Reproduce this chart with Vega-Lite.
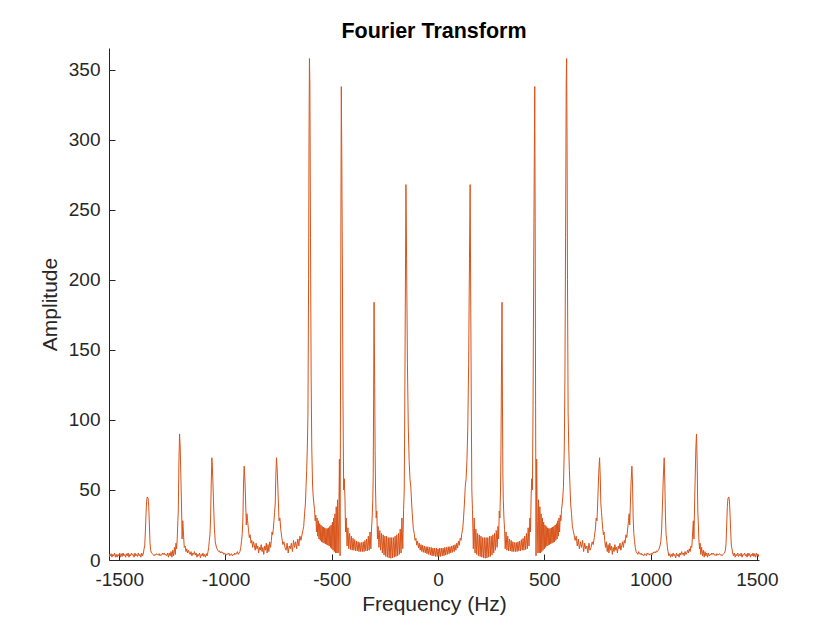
{
  "$schema": "https://vega.github.io/schema/vega-lite/v6.json",
  "autosize": {"type": "none"},
  "width": 650,
  "height": 512,
  "padding": {"left": 109, "top": 48, "right": 81, "bottom": 70},
  "background": "white",
  "title": {"text": "Fourier Transform", "fontSize": 21.5, "fontWeight": "bold", "font": "Liberation Sans", "color": "black", "offset": 6, "anchor": "middle", "frame": "group"},
  "data": {
    "values": [
      {"freq":0,"amp":8},{"freq":4,"amp":2.5},{"freq":8,"amp":8.5},{"freq":12,"amp":2.5},{"freq":16,"amp":8.5},{"freq":20,"amp":3},{"freq":24,"amp":8.5},{"freq":28,"amp":3},{"freq":32,"amp":9},{"freq":36,"amp":3.5},{"freq":40,"amp":9},{"freq":44,"amp":4},{"freq":48,"amp":9.5},{"freq":52,"amp":4.5},{"freq":56,"amp":9.5},{"freq":60,"amp":5},{"freq":64,"amp":10},{"freq":68,"amp":5.5},{"freq":72,"amp":10.5},{"freq":76,"amp":6},{"freq":80,"amp":11},{"freq":84,"amp":7},{"freq":88,"amp":12},{"freq":92,"amp":8.5},{"freq":96,"amp":13.5},{"freq":100,"amp":10.5},{"freq":104,"amp":15.5},{"freq":108,"amp":14},{"freq":112,"amp":19},{"freq":116,"amp":22},{"freq":120,"amp":30},{"freq":124,"amp":40},{"freq":128,"amp":52},{"freq":132,"amp":58},{"freq":136,"amp":71},{"freq":140,"amp":95},{"freq":144,"amp":140},{"freq":148,"amp":215},{"freq":151,"amp":268},{"freq":154,"amp":180},{"freq":157,"amp":95},{"freq":159,"amp":50},{"freq":162,"amp":36},
      {"freq":166,"amp":8},{"freq":170,"amp":30},{"freq":174,"amp":5},{"freq":178,"amp":22},{"freq":182,"amp":4},{"freq":186,"amp":19},{"freq":190,"amp":3},{"freq":194,"amp":18},{"freq":198,"amp":2.5},{"freq":202,"amp":17},{"freq":206,"amp":2},{"freq":210,"amp":16},{"freq":214,"amp":1.5},{"freq":218,"amp":16},{"freq":222,"amp":1.2},{"freq":226,"amp":16},{"freq":230,"amp":1.5},{"freq":234,"amp":16},{"freq":238,"amp":2},{"freq":242,"amp":17},{"freq":246,"amp":2.5},{"freq":250,"amp":17},{"freq":254,"amp":3.5},{"freq":258,"amp":18},{"freq":262,"amp":5},{"freq":266,"amp":19},{"freq":270,"amp":7},{"freq":274,"amp":21},{"freq":278,"amp":9},{"freq":282,"amp":24},{"freq":285,"amp":15},{"freq":288,"amp":35},{"freq":291,"amp":30},{"freq":294,"amp":50},{"freq":296,"amp":78},{"freq":298,"amp":125},{"freq":301,"amp":184},{"freq":303,"amp":115},{"freq":305,"amp":60},{"freq":307,"amp":43},{"freq":310,"amp":30},
      {"freq":313,"amp":22},{"freq":316,"amp":8},{"freq":320,"amp":20},{"freq":324,"amp":7},{"freq":328,"amp":17},{"freq":332,"amp":6.5},{"freq":336,"amp":15},{"freq":340,"amp":6.5},{"freq":344,"amp":14},{"freq":348,"amp":6},{"freq":352,"amp":13},{"freq":356,"amp":6},{"freq":360,"amp":12.5},{"freq":364,"amp":6},{"freq":368,"amp":12.5},{"freq":372,"amp":6},{"freq":376,"amp":13},{"freq":380,"amp":6.5},{"freq":384,"amp":13.5},{"freq":388,"amp":6.5},{"freq":392,"amp":14.5},{"freq":396,"amp":7},{"freq":400,"amp":15.5},{"freq":404,"amp":7},{"freq":408,"amp":17},{"freq":412,"amp":7.5},{"freq":416,"amp":19},{"freq":420,"amp":8},{"freq":424,"amp":23},{"freq":428,"amp":10},{"freq":432,"amp":30},{"freq":435,"amp":20},{"freq":438,"amp":45},{"freq":441,"amp":58},{"freq":444,"amp":50},{"freq":447,"amp":110},{"freq":450,"amp":210},{"freq":453,"amp":290},{"freq":455,"amp":338},{"freq":457,"amp":240},{"freq":459,"amp":110},{"freq":461,"amp":3},{"freq":464,"amp":72},{"freq":467,"amp":28},{"freq":470,"amp":5},
      {"freq":473,"amp":43},{"freq":476,"amp":5},{"freq":479,"amp":38},{"freq":482,"amp":5},{"freq":485,"amp":33},{"freq":488,"amp":6},{"freq":491,"amp":30},{"freq":494,"amp":7},{"freq":497,"amp":27},{"freq":500,"amp":8},{"freq":503,"amp":25},{"freq":506,"amp":9},{"freq":509,"amp":24},{"freq":512,"amp":10},{"freq":515,"amp":23},{"freq":518,"amp":10.5},{"freq":521,"amp":22.5},{"freq":524,"amp":11},{"freq":527,"amp":22.5},{"freq":530,"amp":11.5},{"freq":533,"amp":23},{"freq":536,"amp":12},{"freq":539,"amp":23.5},{"freq":542,"amp":12.5},{"freq":545,"amp":24},{"freq":548,"amp":13},{"freq":551,"amp":25},{"freq":554,"amp":14},{"freq":557,"amp":26},{"freq":560,"amp":15},{"freq":563,"amp":28},{"freq":566,"amp":17},{"freq":569,"amp":30},{"freq":572,"amp":20},{"freq":575,"amp":32},{"freq":578,"amp":28},{"freq":581,"amp":36},{"freq":584,"amp":40},{"freq":587,"amp":45},{"freq":590,"amp":52},{"freq":594,"amp":80},{"freq":597,"amp":130},{"freq":600,"amp":230},{"freq":603,"amp":340},{"freq":605,"amp":358},{"freq":607,"amp":300},{"freq":609,"amp":200},{"freq":612,"amp":105},{"freq":615,"amp":80},{"freq":618,"amp":64},{"freq":621,"amp":52},{"freq":624,"amp":40},{"freq":628,"amp":33},{"freq":632,"amp":24},{"freq":636,"amp":21},
      {"freq":640,"amp":18},{"freq":645,"amp":14},{"freq":650,"amp":17},{"freq":655,"amp":10},{"freq":660,"amp":15},{"freq":665,"amp":8},{"freq":670,"amp":13},{"freq":675,"amp":9},{"freq":680,"amp":14},{"freq":685,"amp":6},{"freq":690,"amp":12},{"freq":695,"amp":8},{"freq":700,"amp":10},{"freq":705,"amp":5},{"freq":710,"amp":12},{"freq":715,"amp":7},{"freq":720,"amp":9},{"freq":725,"amp":13},{"freq":730,"amp":11},{"freq":735,"amp":16},{"freq":740,"amp":22},{"freq":744,"amp":30},{"freq":748,"amp":28},{"freq":752,"amp":45},{"freq":756,"amp":62},{"freq":760,"amp":73},{"freq":763,"amp":60},{"freq":766,"amp":40},{"freq":769,"amp":34},{"freq":772,"amp":28},{"freq":775,"amp":22},{"freq":778,"amp":18},{"freq":781,"amp":20},{"freq":784,"amp":14},{"freq":788,"amp":9},{"freq":792,"amp":13},{"freq":796,"amp":6},{"freq":800,"amp":11},{"freq":804,"amp":5},{"freq":808,"amp":12},{"freq":812,"amp":7},{"freq":816,"amp":10},{"freq":820,"amp":4},{"freq":824,"amp":9},{"freq":828,"amp":6},{"freq":832,"amp":11},{"freq":836,"amp":7},{"freq":840,"amp":9},{"freq":844,"amp":5},{"freq":848,"amp":10},{"freq":852,"amp":8},{"freq":856,"amp":12},{"freq":860,"amp":7},{"freq":864,"amp":10},{"freq":868,"amp":13},{"freq":872,"amp":9},{"freq":876,"amp":14},{"freq":880,"amp":12},{"freq":884,"amp":18},{"freq":888,"amp":16},{"freq":892,"amp":22},{"freq":896,"amp":28},{"freq":899,"amp":33},{"freq":902,"amp":25},{"freq":905,"amp":40},{"freq":908,"amp":55},{"freq":912,"amp":67},{"freq":915,"amp":55},{"freq":918,"amp":30},{"freq":921,"amp":19},{"freq":924,"amp":14},{"freq":928,"amp":9},{"freq":932,"amp":6},{"freq":936,"amp":5},
      {"freq":940,"amp":4},{"freq":944,"amp":6},{"freq":948,"amp":4.5},{"freq":952,"amp":4},{"freq":956,"amp":5},{"freq":960,"amp":3.5},{"freq":964,"amp":4},{"freq":968,"amp":3},{"freq":972,"amp":4.5},{"freq":976,"amp":4},{"freq":980,"amp":3},{"freq":984,"amp":5},{"freq":988,"amp":4},{"freq":992,"amp":4.5},{"freq":996,"amp":3.5},{"freq":1000,"amp":4},{"freq":1004,"amp":5},{"freq":1008,"amp":4},{"freq":1012,"amp":5.5},{"freq":1016,"amp":5},{"freq":1020,"amp":6},{"freq":1024,"amp":5},{"freq":1028,"amp":6.5},{"freq":1032,"amp":6},{"freq":1036,"amp":7},{"freq":1040,"amp":8},{"freq":1044,"amp":10},{"freq":1048,"amp":13},{"freq":1052,"amp":22},{"freq":1056,"amp":40},{"freq":1060,"amp":60},{"freq":1064,"amp":73},{"freq":1067,"amp":55},{"freq":1070,"amp":30},{"freq":1073,"amp":18},{"freq":1076,"amp":14},{"freq":1079,"amp":9},{"freq":1082,"amp":6},{"freq":1086,"amp":3},{"freq":1090,"amp":4.5},{"freq":1094,"amp":2},{"freq":1098,"amp":4},{"freq":1102,"amp":2.5},{"freq":1106,"amp":5},{"freq":1110,"amp":3},{"freq":1114,"amp":4},{"freq":1118,"amp":1.5},{"freq":1122,"amp":5},{"freq":1126,"amp":3},{"freq":1130,"amp":4},{"freq":1134,"amp":2},{"freq":1138,"amp":5},{"freq":1142,"amp":3.5},{"freq":1146,"amp":6},{"freq":1150,"amp":4},{"freq":1154,"amp":5},{"freq":1158,"amp":3},{"freq":1162,"amp":6},{"freq":1166,"amp":4},{"freq":1170,"amp":5},{"freq":1174,"amp":7},{"freq":1178,"amp":5},{"freq":1182,"amp":8},{"freq":1186,"amp":6},{"freq":1190,"amp":10},{"freq":1194,"amp":9},{"freq":1198,"amp":20},{"freq":1201,"amp":28},{"freq":1204,"amp":15},{"freq":1207,"amp":40},{"freq":1210,"amp":60},{"freq":1213,"amp":80},{"freq":1216,"amp":90},{"freq":1219,"amp":70},{"freq":1222,"amp":35},{"freq":1224,"amp":28},{"freq":1227,"amp":15},{"freq":1230,"amp":8},{"freq":1233,"amp":12},{"freq":1236,"amp":4},{"freq":1240,"amp":9},{"freq":1244,"amp":3},{"freq":1248,"amp":7},{"freq":1252,"amp":2},{"freq":1256,"amp":6},{"freq":1260,"amp":3},{"freq":1264,"amp":5},{"freq":1268,"amp":2},{"freq":1272,"amp":5},{"freq":1276,"amp":3},{"freq":1280,"amp":4},{"freq":1284,"amp":3.5},{"freq":1288,"amp":5},{"freq":1292,"amp":4},{"freq":1296,"amp":5},{"freq":1300,"amp":3.5},{"freq":1304,"amp":4},{"freq":1308,"amp":3},{"freq":1312,"amp":4.5},{"freq":1316,"amp":3.5},{"freq":1320,"amp":4},{"freq":1324,"amp":4.5},{"freq":1328,"amp":3.5},{"freq":1332,"amp":4},{"freq":1336,"amp":3},{"freq":1340,"amp":4},{"freq":1344,"amp":4.5},{"freq":1348,"amp":5},{"freq":1352,"amp":7},{"freq":1355,"amp":12},{"freq":1358,"amp":25},{"freq":1361,"amp":38},{"freq":1364,"amp":44},{"freq":1368,"amp":45},{"freq":1371,"amp":42},{"freq":1374,"amp":32},{"freq":1377,"amp":20},{"freq":1380,"amp":10},{"freq":1383,"amp":8},{"freq":1386,"amp":5},{"freq":1390,"amp":3},{"freq":1394,"amp":5},{"freq":1398,"amp":2},{"freq":1402,"amp":4},{"freq":1406,"amp":3},{"freq":1410,"amp":5},{"freq":1414,"amp":2.5},{"freq":1418,"amp":4},{"freq":1422,"amp":3},{"freq":1426,"amp":5},{"freq":1430,"amp":2},{"freq":1434,"amp":4},{"freq":1438,"amp":3.5},{"freq":1442,"amp":5},{"freq":1446,"amp":3},{"freq":1450,"amp":4},{"freq":1454,"amp":2},{"freq":1458,"amp":5},{"freq":1462,"amp":3},{"freq":1466,"amp":4.5},{"freq":1470,"amp":2},{"freq":1474,"amp":4},{"freq":1478,"amp":3},{"freq":1482,"amp":5},{"freq":1486,"amp":2.5},{"freq":1490,"amp":4.5},{"freq":1494,"amp":2},{"freq":1498,"amp":5},{"freq":1502,"amp":3},{"freq":1506,"amp":4},{"freq":1510,"amp":2},
      {"freq":-4,"amp":2.5},{"freq":-8,"amp":8.5},{"freq":-12,"amp":2.5},{"freq":-16,"amp":8.5},{"freq":-20,"amp":3},{"freq":-24,"amp":8.5},{"freq":-28,"amp":3},{"freq":-32,"amp":9},{"freq":-36,"amp":3.5},{"freq":-40,"amp":9},{"freq":-44,"amp":4},{"freq":-48,"amp":9.5},{"freq":-52,"amp":4.5},{"freq":-56,"amp":9.5},{"freq":-60,"amp":5},{"freq":-64,"amp":10},{"freq":-68,"amp":5.5},{"freq":-72,"amp":10.5},{"freq":-76,"amp":6},{"freq":-80,"amp":11},{"freq":-84,"amp":7},{"freq":-88,"amp":12},{"freq":-92,"amp":8.5},{"freq":-96,"amp":13.5},{"freq":-100,"amp":10.5},{"freq":-104,"amp":15.5},{"freq":-108,"amp":14},{"freq":-112,"amp":19},{"freq":-116,"amp":22},{"freq":-120,"amp":30},{"freq":-124,"amp":40},{"freq":-128,"amp":52},{"freq":-132,"amp":58},{"freq":-136,"amp":71},{"freq":-140,"amp":95},{"freq":-144,"amp":140},{"freq":-148,"amp":215},{"freq":-151,"amp":268},{"freq":-154,"amp":180},{"freq":-157,"amp":95},{"freq":-159,"amp":50},{"freq":-162,"amp":36},
      {"freq":-166,"amp":8},{"freq":-170,"amp":30},{"freq":-174,"amp":5},{"freq":-178,"amp":22},{"freq":-182,"amp":4},{"freq":-186,"amp":19},{"freq":-190,"amp":3},{"freq":-194,"amp":18},{"freq":-198,"amp":2.5},{"freq":-202,"amp":17},{"freq":-206,"amp":2},{"freq":-210,"amp":16},{"freq":-214,"amp":1.5},{"freq":-218,"amp":16},{"freq":-222,"amp":1.2},{"freq":-226,"amp":16},{"freq":-230,"amp":1.5},{"freq":-234,"amp":16},{"freq":-238,"amp":2},{"freq":-242,"amp":17},{"freq":-246,"amp":2.5},{"freq":-250,"amp":17},{"freq":-254,"amp":3.5},{"freq":-258,"amp":18},{"freq":-262,"amp":5},{"freq":-266,"amp":19},{"freq":-270,"amp":7},{"freq":-274,"amp":21},{"freq":-278,"amp":9},{"freq":-282,"amp":24},{"freq":-285,"amp":15},{"freq":-288,"amp":35},{"freq":-291,"amp":30},{"freq":-294,"amp":50},{"freq":-296,"amp":78},{"freq":-298,"amp":125},{"freq":-301,"amp":184},{"freq":-303,"amp":115},{"freq":-305,"amp":60},{"freq":-307,"amp":43},{"freq":-310,"amp":30},
      {"freq":-313,"amp":22},{"freq":-316,"amp":8},{"freq":-320,"amp":20},{"freq":-324,"amp":7},{"freq":-328,"amp":17},{"freq":-332,"amp":6.5},{"freq":-336,"amp":15},{"freq":-340,"amp":6.5},{"freq":-344,"amp":14},{"freq":-348,"amp":6},{"freq":-352,"amp":13},{"freq":-356,"amp":6},{"freq":-360,"amp":12.5},{"freq":-364,"amp":6},{"freq":-368,"amp":12.5},{"freq":-372,"amp":6},{"freq":-376,"amp":13},{"freq":-380,"amp":6.5},{"freq":-384,"amp":13.5},{"freq":-388,"amp":6.5},{"freq":-392,"amp":14.5},{"freq":-396,"amp":7},{"freq":-400,"amp":15.5},{"freq":-404,"amp":7},{"freq":-408,"amp":17},{"freq":-412,"amp":7.5},{"freq":-416,"amp":19},{"freq":-420,"amp":8},{"freq":-424,"amp":23},{"freq":-428,"amp":10},{"freq":-432,"amp":30},{"freq":-435,"amp":20},{"freq":-438,"amp":45},{"freq":-441,"amp":58},{"freq":-444,"amp":50},{"freq":-447,"amp":110},{"freq":-450,"amp":210},{"freq":-453,"amp":290},{"freq":-455,"amp":338},{"freq":-457,"amp":240},{"freq":-459,"amp":110},{"freq":-461,"amp":3},{"freq":-464,"amp":72},{"freq":-467,"amp":28},{"freq":-470,"amp":5},
      {"freq":-473,"amp":43},{"freq":-476,"amp":5},{"freq":-479,"amp":38},{"freq":-482,"amp":5},{"freq":-485,"amp":33},{"freq":-488,"amp":6},{"freq":-491,"amp":30},{"freq":-494,"amp":7},{"freq":-497,"amp":27},{"freq":-500,"amp":8},{"freq":-503,"amp":25},{"freq":-506,"amp":9},{"freq":-509,"amp":24},{"freq":-512,"amp":10},{"freq":-515,"amp":23},{"freq":-518,"amp":10.5},{"freq":-521,"amp":22.5},{"freq":-524,"amp":11},{"freq":-527,"amp":22.5},{"freq":-530,"amp":11.5},{"freq":-533,"amp":23},{"freq":-536,"amp":12},{"freq":-539,"amp":23.5},{"freq":-542,"amp":12.5},{"freq":-545,"amp":24},{"freq":-548,"amp":13},{"freq":-551,"amp":25},{"freq":-554,"amp":14},{"freq":-557,"amp":26},{"freq":-560,"amp":15},{"freq":-563,"amp":28},{"freq":-566,"amp":17},{"freq":-569,"amp":30},{"freq":-572,"amp":20},{"freq":-575,"amp":32},{"freq":-578,"amp":28},{"freq":-581,"amp":36},{"freq":-584,"amp":40},{"freq":-587,"amp":45},{"freq":-590,"amp":52},{"freq":-594,"amp":80},{"freq":-597,"amp":130},{"freq":-600,"amp":230},{"freq":-603,"amp":340},{"freq":-605,"amp":358},{"freq":-607,"amp":300},{"freq":-609,"amp":200},{"freq":-612,"amp":105},{"freq":-615,"amp":80},{"freq":-618,"amp":64},{"freq":-621,"amp":52},{"freq":-624,"amp":40},{"freq":-628,"amp":33},{"freq":-632,"amp":24},{"freq":-636,"amp":21},
      {"freq":-640,"amp":18},{"freq":-645,"amp":14},{"freq":-650,"amp":17},{"freq":-655,"amp":10},{"freq":-660,"amp":15},{"freq":-665,"amp":8},{"freq":-670,"amp":13},{"freq":-675,"amp":9},{"freq":-680,"amp":14},{"freq":-685,"amp":6},{"freq":-690,"amp":12},{"freq":-695,"amp":8},{"freq":-700,"amp":10},{"freq":-705,"amp":5},{"freq":-710,"amp":12},{"freq":-715,"amp":7},{"freq":-720,"amp":9},{"freq":-725,"amp":13},{"freq":-730,"amp":11},{"freq":-735,"amp":16},{"freq":-740,"amp":22},{"freq":-744,"amp":30},{"freq":-748,"amp":28},{"freq":-752,"amp":45},{"freq":-756,"amp":62},{"freq":-760,"amp":73},{"freq":-763,"amp":60},{"freq":-766,"amp":40},{"freq":-769,"amp":34},{"freq":-772,"amp":28},{"freq":-775,"amp":22},{"freq":-778,"amp":18},{"freq":-781,"amp":20},{"freq":-784,"amp":14},{"freq":-788,"amp":9},{"freq":-792,"amp":13},{"freq":-796,"amp":6},{"freq":-800,"amp":11},{"freq":-804,"amp":5},{"freq":-808,"amp":12},{"freq":-812,"amp":7},{"freq":-816,"amp":10},{"freq":-820,"amp":4},{"freq":-824,"amp":9},{"freq":-828,"amp":6},{"freq":-832,"amp":11},{"freq":-836,"amp":7},{"freq":-840,"amp":9},{"freq":-844,"amp":5},{"freq":-848,"amp":10},{"freq":-852,"amp":8},{"freq":-856,"amp":12},{"freq":-860,"amp":7},{"freq":-864,"amp":10},{"freq":-868,"amp":13},{"freq":-872,"amp":9},{"freq":-876,"amp":14},{"freq":-880,"amp":12},{"freq":-884,"amp":18},{"freq":-888,"amp":16},{"freq":-892,"amp":22},{"freq":-896,"amp":28},{"freq":-899,"amp":33},{"freq":-902,"amp":25},{"freq":-905,"amp":40},{"freq":-908,"amp":55},{"freq":-912,"amp":67},{"freq":-915,"amp":55},{"freq":-918,"amp":30},{"freq":-921,"amp":19},{"freq":-924,"amp":14},{"freq":-928,"amp":9},{"freq":-932,"amp":6},{"freq":-936,"amp":5},
      {"freq":-940,"amp":4},{"freq":-944,"amp":6},{"freq":-948,"amp":4.5},{"freq":-952,"amp":4},{"freq":-956,"amp":5},{"freq":-960,"amp":3.5},{"freq":-964,"amp":4},{"freq":-968,"amp":3},{"freq":-972,"amp":4.5},{"freq":-976,"amp":4},{"freq":-980,"amp":3},{"freq":-984,"amp":5},{"freq":-988,"amp":4},{"freq":-992,"amp":4.5},{"freq":-996,"amp":3.5},{"freq":-1000,"amp":4},{"freq":-1004,"amp":5},{"freq":-1008,"amp":4},{"freq":-1012,"amp":5.5},{"freq":-1016,"amp":5},{"freq":-1020,"amp":6},{"freq":-1024,"amp":5},{"freq":-1028,"amp":6.5},{"freq":-1032,"amp":6},{"freq":-1036,"amp":7},{"freq":-1040,"amp":8},{"freq":-1044,"amp":10},{"freq":-1048,"amp":13},{"freq":-1052,"amp":22},{"freq":-1056,"amp":40},{"freq":-1060,"amp":60},{"freq":-1064,"amp":73},{"freq":-1067,"amp":55},{"freq":-1070,"amp":30},{"freq":-1073,"amp":18},{"freq":-1076,"amp":14},{"freq":-1079,"amp":9},{"freq":-1082,"amp":6},{"freq":-1086,"amp":3},{"freq":-1090,"amp":4.5},{"freq":-1094,"amp":2},{"freq":-1098,"amp":4},{"freq":-1102,"amp":2.5},{"freq":-1106,"amp":5},{"freq":-1110,"amp":3},{"freq":-1114,"amp":4},{"freq":-1118,"amp":1.5},{"freq":-1122,"amp":5},{"freq":-1126,"amp":3},{"freq":-1130,"amp":4},{"freq":-1134,"amp":2},{"freq":-1138,"amp":5},{"freq":-1142,"amp":3.5},{"freq":-1146,"amp":6},{"freq":-1150,"amp":4},{"freq":-1154,"amp":5},{"freq":-1158,"amp":3},{"freq":-1162,"amp":6},{"freq":-1166,"amp":4},{"freq":-1170,"amp":5},{"freq":-1174,"amp":7},{"freq":-1178,"amp":5},{"freq":-1182,"amp":8},{"freq":-1186,"amp":6},{"freq":-1190,"amp":10},{"freq":-1194,"amp":9},{"freq":-1198,"amp":20},{"freq":-1201,"amp":28},{"freq":-1204,"amp":15},{"freq":-1207,"amp":40},{"freq":-1210,"amp":60},{"freq":-1213,"amp":80},{"freq":-1216,"amp":90},{"freq":-1219,"amp":70},{"freq":-1222,"amp":35},{"freq":-1224,"amp":28},{"freq":-1227,"amp":15},{"freq":-1230,"amp":8},{"freq":-1233,"amp":12},{"freq":-1236,"amp":4},{"freq":-1240,"amp":9},{"freq":-1244,"amp":3},{"freq":-1248,"amp":7},{"freq":-1252,"amp":2},{"freq":-1256,"amp":6},{"freq":-1260,"amp":3},{"freq":-1264,"amp":5},{"freq":-1268,"amp":2},{"freq":-1272,"amp":5},{"freq":-1276,"amp":3},{"freq":-1280,"amp":4},{"freq":-1284,"amp":3.5},{"freq":-1288,"amp":5},{"freq":-1292,"amp":4},{"freq":-1296,"amp":5},{"freq":-1300,"amp":3.5},{"freq":-1304,"amp":4},{"freq":-1308,"amp":3},{"freq":-1312,"amp":4.5},{"freq":-1316,"amp":3.5},{"freq":-1320,"amp":4},{"freq":-1324,"amp":4.5},{"freq":-1328,"amp":3.5},{"freq":-1332,"amp":4},{"freq":-1336,"amp":3},{"freq":-1340,"amp":4},{"freq":-1344,"amp":4.5},{"freq":-1348,"amp":5},{"freq":-1352,"amp":7},{"freq":-1355,"amp":12},{"freq":-1358,"amp":25},{"freq":-1361,"amp":38},{"freq":-1364,"amp":44},{"freq":-1368,"amp":45},{"freq":-1371,"amp":42},{"freq":-1374,"amp":32},{"freq":-1377,"amp":20},{"freq":-1380,"amp":10},{"freq":-1383,"amp":8},{"freq":-1386,"amp":5},{"freq":-1390,"amp":3},{"freq":-1394,"amp":5},{"freq":-1398,"amp":2},{"freq":-1402,"amp":4},{"freq":-1406,"amp":3},{"freq":-1410,"amp":5},{"freq":-1414,"amp":2.5},{"freq":-1418,"amp":4},{"freq":-1422,"amp":3},{"freq":-1426,"amp":5},{"freq":-1430,"amp":2},{"freq":-1434,"amp":4},{"freq":-1438,"amp":3.5},{"freq":-1442,"amp":5},{"freq":-1446,"amp":3},{"freq":-1450,"amp":4},{"freq":-1454,"amp":2},{"freq":-1458,"amp":5},{"freq":-1462,"amp":3},{"freq":-1466,"amp":4.5},{"freq":-1470,"amp":2},{"freq":-1474,"amp":4},{"freq":-1478,"amp":3},{"freq":-1482,"amp":5},{"freq":-1486,"amp":2.5},{"freq":-1490,"amp":4.5},{"freq":-1494,"amp":2},{"freq":-1498,"amp":5},{"freq":-1502,"amp":3},{"freq":-1506,"amp":4},{"freq":-1510,"amp":2},
      {"freq":-1514,"amp":4},{"freq":-1518,"amp":2},{"freq":-1522,"amp":5},{"freq":-1526,"amp":3},{"freq":-1530,"amp":4},{"freq":-1534,"amp":2},{"freq":-1538,"amp":4.5},{"freq":-1542,"amp":3},{"freq":-1546,"amp":4},{"freq":-1548,"amp":2}
    ]
  },
  "mark": {"type": "line", "color": "#D95319", "strokeWidth": 1, "clip": true},
  "encoding": {
    "x": {
      "field": "freq",
      "type": "quantitative",
      "scale": {"domain": [-1548, 1510], "nice": false, "zero": false},
      "axis": {
        "values": [-1500, -1000, -500, 0, 500, 1000, 1500],
        "labelExpr": "'' + datum.value",
        "title": "Frequency (Hz)",
        "labelPadding": 16,
        "titlePadding": 4,
        "labelFlush": false
      }
    },
    "y": {
      "field": "amp",
      "type": "quantitative",
      "scale": {"domain": [0, 365.5], "nice": false},
      "axis": {
        "values": [0, 50, 100, 150, 200, 250, 300, 350],
        "labelExpr": "'' + datum.value",
        "title": "Amplitude",
        "labelPadding": 15,
        "titlePadding": 8
      }
    }
  },
  "config": {
    "view": {"stroke": null},
    "axis": {
      "grid": false,
      "domainColor": "#262626",
      "domainWidth": 1,
      "tickColor": "#262626",
      "tickWidth": 1,
      "tickSize": -6,
      "labelColor": "#262626",
      "titleColor": "#262626",
      "labelFont": "Liberation Sans",
      "titleFont": "Liberation Sans",
      "labelFontSize": 19,
      "titleFontSize": 21,
      "titleFontWeight": "normal",
      "labelOverlap": false
    }
  }
}
